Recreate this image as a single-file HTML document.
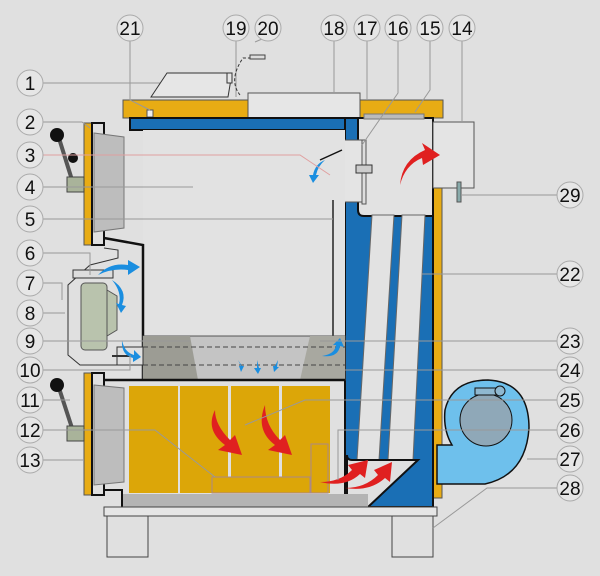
<!DOCTYPE html>
<html><head><meta charset="utf-8"><style>
html,body{margin:0;padding:0;background:#e0e0e0;}
svg{display:block}
text{font-family:"Liberation Sans",sans-serif;font-size:19px;fill:#111;text-anchor:middle}
.c{fill:#e6e6e6;stroke:#aaa;stroke-width:1}
.l{stroke:#999;stroke-width:1;fill:none}
</style></head><body>
<svg width="600" height="576" viewBox="0 0 600 576" xmlns="http://www.w3.org/2000/svg">
<rect width="600" height="576" fill="#e0e0e0"/>
<rect x="123" y="100" width="125" height="18" fill="#e8ac14" stroke="#555"/>
<rect x="360" y="100" width="83" height="18" fill="#e8ac14" stroke="#555"/>
<rect x="248" y="93" width="112" height="25" fill="#e6e6e6" stroke="#555"/>
<rect x="147" y="110" width="6" height="7" fill="#eee" stroke="#555"/>
<rect x="433" y="188" width="9" height="310" fill="#e8ac14" stroke="#555"/>
<rect x="130" y="118" width="303" height="12" fill="#1a6fb5" stroke="#111" stroke-width="2"/>
<rect x="345" y="118" width="88" height="389" fill="#1a6fb5" stroke="#111" stroke-width="2"/>
<path d="M358 118 H433 V216 H364 Q358 216 358 210 Z" fill="#e2e2e2" stroke="#111" stroke-width="2"/>
<rect x="364" y="114" width="60" height="5" fill="#bbb" stroke="#777"/>
<polygon points="372,215 394,215 379,460 357,460" fill="#e2e2e2" stroke="#666"/>
<polygon points="402,215 425,215 413,460 388,460" fill="#e2e2e2" stroke="#666"/>
<path d="M347 455 Q347 460 352 460 H418 L368 507 H347 Z" fill="#e0e0e0" stroke="#111" stroke-width="2"/>
<rect x="433" y="122" width="41" height="66" fill="#e4e4e4" stroke="#555"/>
<rect x="457" y="182" width="4" height="20" fill="#8aa" stroke="#555"/>
<rect x="342" y="140" width="20" height="62" fill="#e4e4e4" stroke="#555"/>
<rect x="362" y="140" width="4" height="64" fill="#ddd" stroke="#555"/>
<rect x="356" y="165" width="16" height="8" fill="#ccc" stroke="#333"/>
<rect x="143" y="130" width="202" height="250" fill="#e2e2e2"/>
<line x1="333" y1="200" x2="333" y2="365" stroke="#222" stroke-width="1.5"/>
<line x1="320" y1="160" x2="342" y2="150" stroke="#111" stroke-width="1.5"/>
<path d="M104 238 L143 245 V380" fill="none" stroke="#111" stroke-width="2.5"/>
<rect x="143" y="336" width="202" height="44" fill="#c4c4c4" stroke="#555"/>
<polygon points="143,336 190,336 198,380 143,380" fill="#9c9c94"/>
<polygon points="310,336 345,336 345,380 300,380" fill="#a8a8a0"/>
<line x1="143" y1="347" x2="345" y2="347" stroke="#444" stroke-dasharray="5,3"/>
<line x1="143" y1="365" x2="345" y2="365" stroke="#444" stroke-dasharray="5,3"/>
<line x1="104" y1="380" x2="345" y2="380" stroke="#111" stroke-width="2.5"/>
<path d="M104 248 L118 250 V258 L90 265 L68 285 V355 L80 365 H118" fill="none" stroke="#333"/>
<rect x="73" y="270" width="40" height="8" fill="#ddd" stroke="#333"/>
<rect x="81" y="283" width="26" height="67" rx="4" fill="#b9c3ad" stroke="#555"/>
<polygon points="107,290 117,296 117,330 107,336" fill="#b9c3ad" stroke="#555"/>
<rect x="117" y="347" width="26" height="18" fill="#e0e0e0" stroke="#333"/>
<line x1="112" y1="356" x2="130" y2="356" stroke="#333" stroke-width="2"/>
<rect x="84" y="123" width="8" height="122" fill="#e8ac14" stroke="#555"/>
<rect x="92" y="123" width="12" height="122" fill="#e0e0e0" stroke="#111" stroke-width="2"/>
<polygon points="94,133 124,137 124,228 94,232" fill="#bdbdbd" stroke="#777"/>
<rect x="84" y="373" width="8" height="122" fill="#e8ac14" stroke="#555"/>
<rect x="92" y="373" width="12" height="122" fill="#e0e0e0" stroke="#111" stroke-width="2"/>
<polygon points="94,385 124,388 124,482 94,485" fill="#bdbdbd" stroke="#777"/>
<line x1="58" y1="135" x2="72" y2="180" stroke="#555" stroke-width="4"/>
<circle cx="57" cy="135" r="7" fill="#111"/>
<circle cx="73" cy="158" r="5" fill="#111"/>
<rect x="67" y="177" width="17" height="15" fill="#a9b39a" stroke="#444"/>
<line x1="58" y1="385" x2="72" y2="428" stroke="#555" stroke-width="4"/>
<circle cx="57" cy="385" r="7" fill="#111"/>
<rect x="67" y="426" width="17" height="15" fill="#a9b39a" stroke="#444"/>
<rect x="129" y="386" width="49" height="107" fill="#dca608"/>
<rect x="180" y="386" width="48" height="107" fill="#dca608"/>
<rect x="231" y="386" width="48" height="107" fill="#dca608"/>
<rect x="282" y="386" width="48" height="107" fill="#dca608"/>
<rect x="212" y="477" width="98" height="16" fill="#dca608" stroke="#a88"/>
<rect x="311" y="444" width="17" height="49" fill="#dca608" stroke="#a88"/>
<rect x="122" y="494" width="246" height="13" fill="#b4b4b4"/>
<path d="M104 490 H122 V507" fill="none" stroke="#111" stroke-width="2"/>
<rect x="104" y="507" width="333" height="9" fill="#e6e6e6" stroke="#444"/>
<rect x="107" y="516" width="41" height="41" fill="#e0e0e0" stroke="#444"/>
<rect x="392" y="516" width="41" height="41" fill="#e0e0e0" stroke="#444"/>
<path d="M437 445 H452 Q443 430 445 410 Q452 380 488 380 Q529 382 529 428 Q526 475 485 484 H437 Z" fill="#6ec0ec" stroke="#111" stroke-width="1.5"/>
<circle cx="486" cy="420" r="26" fill="#8fa8b8" stroke="#111"/>
<rect x="475" y="388" width="22" height="7" fill="#8fb8d0" stroke="#111"/>
<circle cx="500" cy="391" r="5" fill="#8fb8d0" stroke="#111"/>
<g fill="#e02020">
<path d="M400 185 Q402 160 425 150 L422 143 L440 155 L423 165 L422 158 Q405 165 400 185Z"/>
<path d="M215 410 Q205 430 225 445 L218 450 L242 455 L235 435 L230 440 Q215 425 215 410Z"/>
<path d="M265 405 Q255 430 275 445 L268 450 L292 455 L285 435 L280 440 Q265 425 265 405Z"/>
<path d="M320 482 Q340 482 352 470 L348 465 L368 460 L365 478 L360 474 Q345 488 320 482Z"/>
<path d="M345 488 Q365 488 378 475 L374 470 L392 462 L390 482 L385 478 Q370 492 345 488Z"/>
</g>
<g fill="#1a8ee0">
<path d="M98 275 Q110 262 128 265 L128 260 L140 267 L128 275 L128 270 Q112 268 98 275Z"/>
<path d="M112 280 Q128 290 122 305 L126 306 L121 313 L116 303 L119 304 Q122 292 112 280Z"/>
<path d="M122 340 Q124 352 134 355 L134 350 L141 357 L133 362 L133 358 Q121 355 122 340Z"/>
<path d="M325 160 Q315 164 313 175 L309 175 L313 183 L319 175 L316 175 Q318 166 325 160Z"/>
<path d="M322 356 Q335 354 336 345 L333 345 L340 338 L344 347 L340 346 Q338 358 322 356Z"/>
<path d="M238 360 L241 366 L239 366 L241 372 L244 366 L242 366Z"/>
<path d="M257 360 L257 368 L254 368 L258 374 L261 368 L259 368 Z"/>
<path d="M278 360 L275 366 L273 366 L274 372 L279 367 L277 367Z"/>
</g>
<g class="l">
<path d="M43 83 H160"/><path d="M43 122 H82 L90 128"/><path d="M43 155 H300 L330 175" stroke="#e0a0a0"/>
<path d="M43 187 H193"/><path d="M43 219 H333"/><path d="M43 253 H90 V275"/>
<path d="M43 283 H62 V300"/><path d="M43 313 H65"/><path d="M43 341 H190"/>
<path d="M43 370 H130 V355"/><path d="M43 400 H70"/><path d="M43 430 H155 L215 477"/>
<path d="M43 460 H84"/>
<path d="M130 41 V100 L150 110"/><path d="M236 41 V97"/><path d="M262 39 L255 42"/>
<path d="M334 41 V93"/><path d="M367 41 V100"/><path d="M398 41 V93 L362 145"/>
<path d="M430 41 V90 L415 112"/><path d="M462 41 V122"/>
<path d="M557 195 H462"/><path d="M557 274 H422"/><path d="M557 341 H320"/>
<path d="M557 370 H345"/><path d="M557 400 H305 L245 425"/><path d="M557 430 H338 V480"/>
<path d="M557 459 H527"/><path d="M557 488 H487 L433 528"/>
</g>
<path d="M240 95 Q228 80 243 58 H250" fill="none" stroke="#333" stroke-dasharray="3,2"/>
<rect x="250" y="55" width="15" height="4" fill="#ddd" stroke="#444"/>
<polygon points="151,97 167,73 232,73 228,97" fill="#e6e6e6" stroke="#333"/>
<rect x="227" y="73" width="5" height="10" fill="#e6e6e6" stroke="#333"/>
<g>
<circle class="c" cx="30" cy="83" r="13"/><text x="30" y="90">1</text>
<circle class="c" cx="30" cy="122" r="13"/><text x="30" y="129">2</text>
<circle class="c" cx="30" cy="155" r="13"/><text x="30" y="162">3</text>
<circle class="c" cx="30" cy="187" r="13"/><text x="30" y="194">4</text>
<circle class="c" cx="30" cy="219" r="13"/><text x="30" y="226">5</text>
<circle class="c" cx="30" cy="253" r="13"/><text x="30" y="260">6</text>
<circle class="c" cx="30" cy="283" r="13"/><text x="30" y="290">7</text>
<circle class="c" cx="30" cy="313" r="13"/><text x="30" y="320">8</text>
<circle class="c" cx="30" cy="341" r="13"/><text x="30" y="348">9</text>
<circle class="c" cx="30" cy="370" r="13"/><text x="30" y="377">10</text>
<circle class="c" cx="30" cy="400" r="13"/><text x="30" y="407">11</text>
<circle class="c" cx="30" cy="430" r="13"/><text x="30" y="437">12</text>
<circle class="c" cx="30" cy="460" r="13"/><text x="30" y="467">13</text>
<circle class="c" cx="130" cy="28" r="13"/><text x="130" y="35">21</text>
<circle class="c" cx="236" cy="28" r="13"/><text x="236" y="35">19</text>
<circle class="c" cx="268" cy="28" r="13"/><text x="268" y="35">20</text>
<circle class="c" cx="334" cy="28" r="13"/><text x="334" y="35">18</text>
<circle class="c" cx="367" cy="28" r="13"/><text x="367" y="35">17</text>
<circle class="c" cx="398" cy="28" r="13"/><text x="398" y="35">16</text>
<circle class="c" cx="430" cy="28" r="13"/><text x="430" y="35">15</text>
<circle class="c" cx="462" cy="28" r="13"/><text x="462" y="35">14</text>
<circle class="c" cx="570" cy="195" r="13"/><text x="570" y="202">29</text>
<circle class="c" cx="570" cy="274" r="13"/><text x="570" y="281">22</text>
<circle class="c" cx="570" cy="341" r="13"/><text x="570" y="348">23</text>
<circle class="c" cx="570" cy="370" r="13"/><text x="570" y="377">24</text>
<circle class="c" cx="570" cy="400" r="13"/><text x="570" y="407">25</text>
<circle class="c" cx="570" cy="430" r="13"/><text x="570" y="437">26</text>
<circle class="c" cx="570" cy="459" r="13"/><text x="570" y="466">27</text>
<circle class="c" cx="570" cy="488" r="13"/><text x="570" y="495">28</text>
</g>
</svg>
</body></html>
